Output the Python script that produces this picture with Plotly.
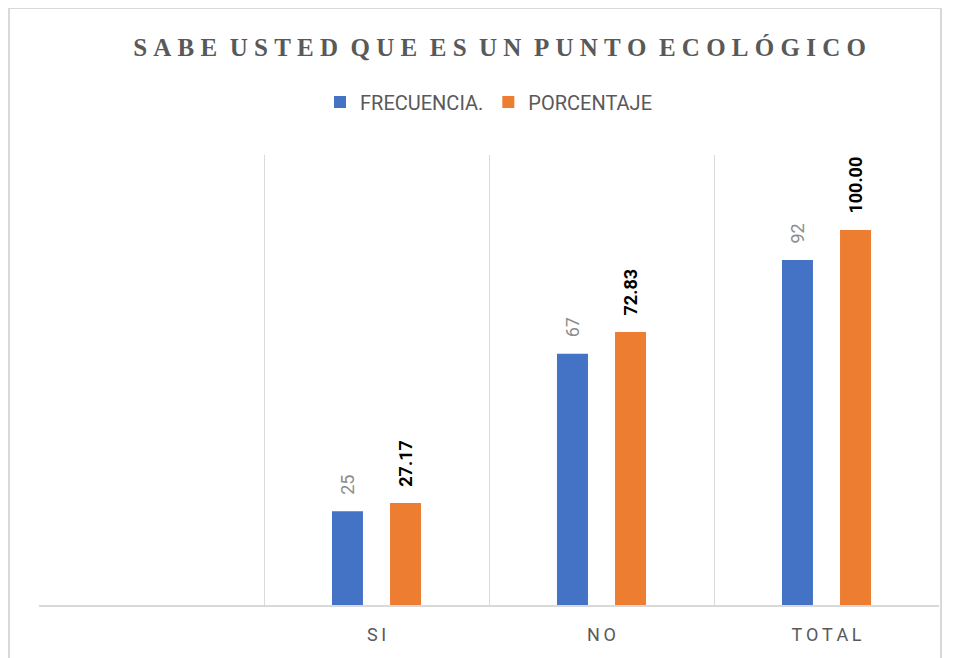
import plotly.graph_objects as go

categorias = [" ", "SI", "NO", "TOTAL"]
etiquetas = ["", "S\u2009I", "N\u2009O", "T\u2009O\u2009T\u2009A\u2009L"]
frecuencia = [None, 25, 67, 92]
porcentaje = [None, 27.17, 72.83, 100.00]

titulo = "SABE USTED QUE ES UN PUNTO ECOLÓGICO"
titulo_espaciado = "\u00a0\u00a0".join("\u00a0".join(p) for p in titulo.split(" "))

fuente = "Roboto, Liberation Sans, sans-serif"
pad = "\u00a0\u00a0\u00a0"  # separa la etiqueta de la barra

fig = go.Figure()
fig.add_trace(go.Bar(
    x=categorias, y=frecuencia, name="FRECUENCIA.",
    marker=dict(color="#4472C4", line=dict(width=0)),
    text=[None if v is None else pad + f"{v}" for v in frecuencia],
    textposition="outside", textangle=-90, constraintext="none",
    textfont=dict(family=fuente, size=18, color="#8C8C8C"),
    cliponaxis=False,
))
fig.add_trace(go.Bar(
    x=categorias, y=porcentaje, name="PORCENTAJE",
    marker=dict(color="#ED7D31", line=dict(width=0)),
    text=[None if v is None else pad + f"<b>{v:.2f}</b>" for v in porcentaje],
    textposition="outside", textangle=-90, constraintext="none",
    textfont=dict(family=fuente, size=18, color="#000000"),
    cliponaxis=False,
))

# la pagina tiene 8px de margen en el body
fig.update_layout(
    width=950, height=650,
    paper_bgcolor="white", plot_bgcolor="white",
    margin=dict(l=31, r=19, t=147, b=53, autoexpand=False),
    barmode="group", bargap=0.484, bargroupgap=0.466,
    title=dict(
        text="<b>" + titulo_espaciado + "</b>",
        x=0.5117, xref="paper", xanchor="center",
        y=1 - 39 / 650, yref="container", yanchor="middle",
        font=dict(family="Liberation Serif, Times New Roman, serif", size=25, color="#595959"),
    ),
    legend=dict(
        orientation="h", x=0.5, xanchor="center", y=1.118, yanchor="middle",
        font=dict(family=fuente, size=20, color="#595959"),
        itemwidth=30, traceorder="normal",
    ),
    showlegend=True,
    shapes=[dict(
        type="rect", xref="paper", yref="paper",
        x0=-0.0333, x1=1.0022, y0=-0.3, y1=1.3267,
        line=dict(color="#D9D9D9", width=2), fillcolor="rgba(0,0,0,0)", layer="below",
    )],
)

fig.update_xaxes(
    type="category", categoryorder="array", categoryarray=categorias,
    tickmode="array", tickvals=categorias, ticktext=etiquetas,
    tickson="boundaries", ticks="", showgrid=True, gridcolor="#D9D9D9", gridwidth=1,
    showline=True, linecolor="#D9D9D9", linewidth=2,
    tickfont=dict(family=fuente, size=18, color="#595959"),
    range=[-0.5, 3.5], fixedrange=True, ticklabelstandoff=12, automargin=False,
)
fig.update_yaxes(range=[0, 120], visible=False, showgrid=False, zeroline=False, automargin=False)

fig.write_html("out.html")
